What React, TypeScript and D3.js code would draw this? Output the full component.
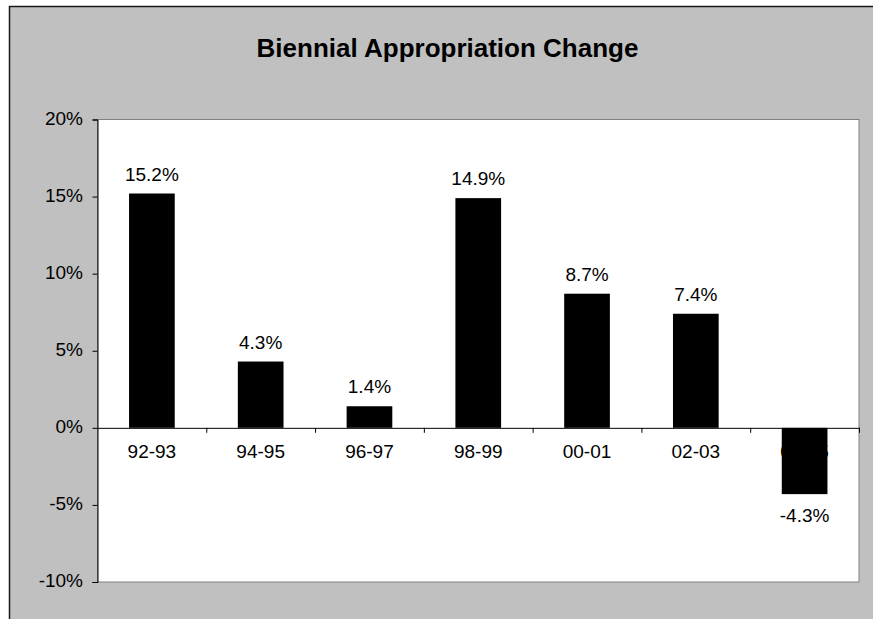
import React, { useEffect, useRef } from 'react';
import * as d3 from 'd3';

// Biennium labels and percent change
const periods = ['92-93', '94-95', '96-97', '98-99', '00-01', '02-03', '04-05'];
const changes = [15.2, 4.3, 1.4, 14.9, 8.7, 7.4, -4.3];
const yTicks = [-10, -5, 0, 5, 10, 15, 20];

const FONT = '"Liberation Sans", Arial, Helvetica, sans-serif';

const App: React.FC = () => {
  const svgRef = useRef<SVGSVGElement>(null);

  useEffect(() => {
    if (!svgRef.current) return;
    const svg = d3.select(svgRef.current);
    svg.selectAll('*').remove();

    const W = 873;
    const H = 619;
    const plot = { left: 97.5, right: 859, top: 119.5, bottom: 582 };

    // chart area background with dark border (cropped on right/bottom)
    svg.append('rect')
      .attr('x', 9.5).attr('y', 6.5)
      .attr('width', W + 20).attr('height', H + 20)
      .attr('fill', '#c0c0c0')
      .attr('stroke', '#1a1a1a')
      .attr('stroke-width', 1.5);

    svg.append('text')
      .attr('x', 447.5).attr('y', 57)
      .attr('text-anchor', 'middle')
      .style('font-family', FONT)
      .style('font-size', '26px')
      .style('font-weight', 'bold')
      .attr('fill', '#000')
      .text('Biennial Appropriation Change');

    const x = d3.scaleBand<string>()
      .domain(periods)
      .range([plot.left, plot.right])
      .paddingInner(0.58)
      .paddingOuter(0.29);

    const y = d3.scaleLinear()
      .domain([-10, 20])
      .range([plot.bottom, plot.top]);

    // plot area
    svg.append('rect')
      .attr('x', plot.left).attr('y', plot.top)
      .attr('width', plot.right - plot.left)
      .attr('height', plot.bottom - plot.top)
      .attr('fill', '#fff')
      .attr('stroke', '#808080')
      .attr('stroke-width', 1);

    // y axis
    const yAxis = d3.axisLeft(y)
      .tickValues(yTicks)
      .tickSize(5)
      .tickPadding(9.5)
      .tickFormat(d => `${d}%`);

    const yg = svg.append('g')
      .attr('transform', `translate(${plot.left},0)`)
      .call(yAxis);
    yg.select('.domain').attr('stroke', '#000');
    yg.selectAll('.tick line').attr('stroke', '#000');
    yg.selectAll('.tick text')
      .attr('dy', '0.25em')
      .attr('fill', '#000')
      .style('font-family', FONT)
      .style('font-size', '19px');

    // x axis at zero with ticks between categories
    const xTickScale = d3.scaleLinear().domain([0, periods.length]).range([plot.left, plot.right]);
    const xAxis = d3.axisBottom(xTickScale)
      .tickValues(d3.range(1, periods.length + 1))
      .tickSize(5)
      .tickSizeOuter(0)
      .tickFormat(() => '');
    const xg = svg.append('g')
      .attr('transform', `translate(0,${y(0)})`)
      .call(xAxis);
    xg.select('.domain').attr('stroke', '#000');
    xg.selectAll('.tick line').attr('stroke', '#000');

    // category labels (drawn under the bars, like the original)
    svg.append('g')
      .selectAll('text')
      .data(periods)
      .join('text')
      .attr('x', d => (x(d) ?? 0) + x.bandwidth() / 2)
      .attr('y', y(0) + 30)
      .attr('text-anchor', 'middle')
      .style('font-family', FONT)
      .style('font-size', '19px')
      .attr('fill', '#000')
      .text(d => d);

    const data = periods.map((p, i) => ({ period: p, value: changes[i] }));

    svg.append('g')
      .selectAll('rect')
      .data(data)
      .join('rect')
      .attr('x', d => x(d.period) ?? 0)
      .attr('width', x.bandwidth())
      .attr('y', d => y(Math.max(0, d.value)))
      .attr('height', d => Math.abs(y(d.value) - y(0)))
      .attr('fill', '#000');

    // value labels
    svg.append('g')
      .selectAll('text')
      .data(data)
      .join('text')
      .attr('x', d => (x(d.period) ?? 0) + x.bandwidth() / 2)
      .attr('y', d => d.value >= 0 ? y(d.value) - 13 : y(d.value) + 28)
      .attr('text-anchor', 'middle')
      .style('font-family', FONT)
      .style('font-size', '19px')
      .attr('fill', '#000')
      .text(d => `${d.value.toFixed(1)}%`);
  }, []);

  return (
    <svg
      ref={svgRef}
      width={873}
      height={619}
      style={{ position: 'absolute', left: 0, top: 0, display: 'block' }}
    />
  );
};

export default App;
